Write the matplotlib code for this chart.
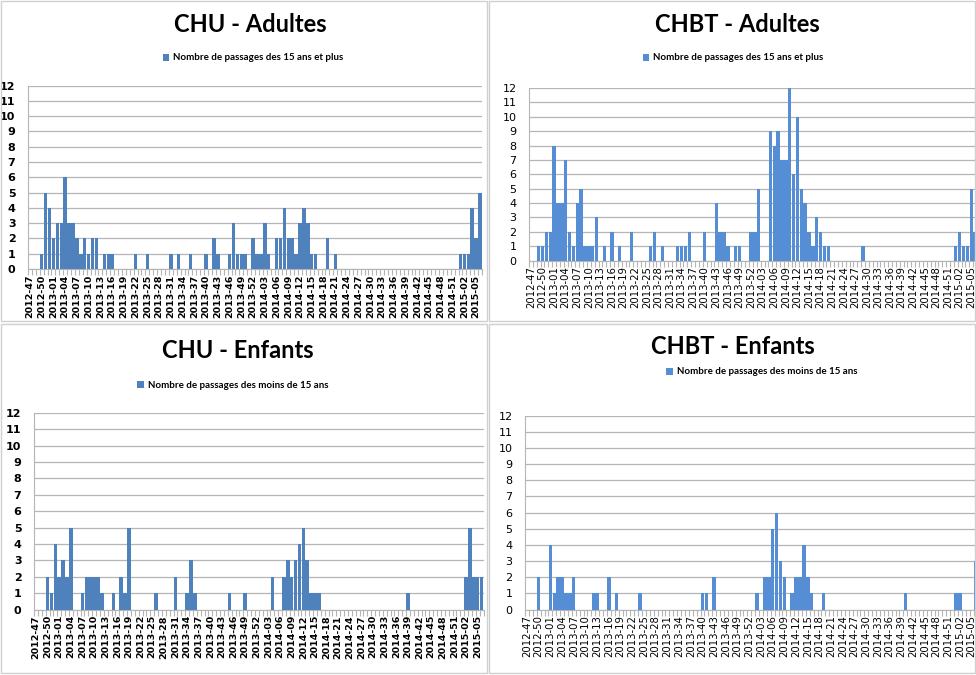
import numpy as np
import matplotlib
matplotlib.use("Agg")
import matplotlib.pyplot as plt
from matplotlib.patches import Rectangle

# semaines 2012-47 -> 2015-06
weeks = ([f"2012-{w:02d}" for w in range(47, 53)] +
         [f"2013-{w:02d}" for w in range(1, 53)] +
         [f"2014-{w:02d}" for w in range(1, 53)] +
         [f"2015-{w:02d}" for w in range(1, 7)])

chu_adultes = [
    0, 0, 0, 1, 5, 4,                                   # 2012
    2, 3, 3, 6, 3, 3, 2, 1, 2, 1, 2, 2, 0, 1, 1, 1, 0, 0, 0, 0,
    0, 1, 0, 0, 1, 0, 0, 0, 0, 0, 1, 0, 1, 0, 0, 1, 0, 0, 0, 1,
    0, 2, 1, 0, 0, 1, 3, 1, 1, 1, 0, 2,                 # 2013
    1, 1, 3, 1, 0, 2, 2, 4, 2, 2, 1, 3, 4, 3, 1, 1, 0, 0, 2, 0,
    1, 0, 0, 0, 0, 0, 0, 0, 0, 0, 0, 0, 0, 0, 0, 0, 0, 0, 0, 0,
    0, 0, 0, 0, 0, 0, 0, 0, 0, 0, 0, 0,                 # 2014
    1, 1, 1, 4, 2, 5,                                   # 2015
]

chbt_adultes = [
    0, 0, 1, 1, 2, 2,
    8, 4, 4, 7, 2, 1, 4, 5, 1, 1, 1, 3, 0, 1, 0, 2, 0, 1, 0, 0,
    2, 0, 0, 0, 0, 1, 2, 0, 1, 0, 0, 0, 1, 1, 1, 2, 0, 0, 0, 2,
    0, 0, 4, 2, 2, 1, 0, 1, 1, 0, 0, 2,
    2, 5, 0, 0, 9, 8, 9, 7, 7, 12, 6, 10, 5, 4, 2, 1, 3, 2, 1, 1,
    0, 0, 0, 0, 0, 0, 0, 0, 1, 0, 0, 0, 0, 0, 0, 0, 0, 0, 0, 0,
    0, 0, 0, 0, 0, 0, 0, 0, 0, 0, 0, 0,
    1, 2, 1, 1, 5, 2,
]

chu_enfants = [
    0, 0, 0, 2, 1, 4,
    2, 3, 2, 5, 0, 0, 1, 2, 2, 2, 2, 1, 0, 0, 1, 0, 2, 1, 5, 0,
    0, 0, 0, 0, 0, 1, 0, 0, 0, 0, 2, 0, 0, 1, 3, 1, 0, 0, 0, 0,
    0, 0, 0, 0, 1, 0, 0, 0, 1, 0, 0, 0,
    0, 0, 0, 2, 0, 0, 2, 3, 2, 3, 4, 5, 3, 1, 1, 1, 0, 0, 0, 0,
    0, 0, 0, 0, 0, 0, 0, 0, 0, 0, 0, 0, 0, 0, 0, 0, 0, 0, 1, 0,
    0, 0, 0, 0, 0, 0, 0, 0, 0, 0, 0, 0,
    0, 2, 5, 2, 2, 2,
]

chbt_enfants = [
    0, 0, 0, 2, 0, 0,
    4, 1, 2, 2, 1, 1, 2, 0, 0, 0, 0, 1, 1, 0, 0, 2, 0, 1, 0, 0,
    0, 0, 0, 1, 0, 0, 0, 0, 0, 0, 0, 0, 0, 0, 0, 0, 0, 0, 0, 1,
    1, 0, 2, 0, 0, 0, 0, 0, 0, 0, 0, 0,
    0, 1, 0, 2, 2, 5, 6, 3, 2, 0, 1, 2, 2, 4, 2, 1, 0, 0, 1, 0,
    0, 0, 0, 0, 0, 0, 0, 0, 0, 0, 0, 0, 0, 0, 0, 0, 0, 0, 0, 1,
    0, 0, 0, 0, 0, 0, 0, 0, 0, 0, 0, 0,
    1, 1, 0, 0, 0, 3,
]

titles = ["CHU - Adultes", "CHBT - Adultes", "CHU - Enfants", "CHBT - Enfants"]
legend_labels = ["Nombre de passages des 15 ans et plus",
                 "Nombre de passages des 15 ans et plus",
                 "Nombre de passages des moins de 15 ans",
                 "Nombre de passages des moins de 15 ans"]

W, H = 976, 675


def fx(px):
    return px / W


def fy(py):
    return 1 - py / H


fig = plt.figure(figsize=(W / 100, H / 100), dpi=100)

# layout in pixels: (left, top, right, bottom) of plot area, title pos, legend pos
layout = [
    dict(box=(28, 85.5, 482, 269), title=(250, 25), leg=(253, 58), color="#4F81BD", bold=True),
    dict(box=(529, 88, 977, 260.5), title=(737, 25), leg=(733, 58), color="#558ED5", bold=False),
    dict(box=(34, 412.7, 483.5, 609.5), title=(238, 350), leg=(233, 385), color="#4F81BD", bold=True),
    dict(box=(525, 415.7, 977.5, 609.5), title=(733, 346), leg=(762, 372), color="#558ED5", bold=False),
]

series = [chu_adultes, chbt_adultes, chu_enfants, chbt_enfants]

# panel frames
for (x0, y0, x1, y1) in [(1, 1, 487, 321), (489, 1, 975, 321),
                         (1, 324, 487, 673), (489, 324, 975, 673)]:
    fig.add_artist(Rectangle((fx(x0), fy(y1)), fx(x1 - x0), (y1 - y0) / H,
                             transform=fig.transFigure, fill=False,
                             ec="#d0d0d0", lw=1))

x = np.arange(len(weeks))
grid_col = "#b5b5b5"

for vals, lay, title, leg in zip(series, layout, titles, legend_labels):
    l, t, r, b = lay["box"]
    ax = fig.add_axes([fx(l), fy(b), (r - l) / W, (b - t) / H])
    ax.bar(x, vals, width=0.88, color=lay["color"], label=leg, zorder=3)
    ax.set_xlim(-0.5, len(weeks) - 0.5)
    ax.set_ylim(0, 12)
    ax.set_yticks(range(0, 13))
    ax.yaxis.grid(True, color=grid_col, lw=0.9)
    ax.set_axisbelow(True)
    for s in ["top", "right"]:
        ax.spines[s].set_visible(False)
    ax.spines["left"].set_color(grid_col)
    ax.spines["bottom"].set_color(grid_col)
    fw = "bold" if lay["bold"] else "normal"
    ax.tick_params(axis="y", length=0, pad=9, labelsize=8)
    for lbl in ax.get_yticklabels():
        lbl.set_fontweight(fw)
    ax.set_xticks(x[::3])
    ax.set_xticklabels(weeks[::3], rotation=90,
                       fontsize=6.8 if lay["bold"] else 7.3, fontweight=fw)
    ax.tick_params(axis="x", length=0, pad=4)
    ax.set_xticks(np.arange(-0.5, len(weeks), 1), minor=True)
    ax.tick_params(axis="x", which="minor", length=4, color=grid_col, width=0.8)

    fig.text(fx(lay["title"][0]), fy(lay["title"][1]), title, ha="center", va="center",
             fontsize=17, fontweight="bold", family="Lato")
    ax.legend(loc="center", bbox_to_anchor=(fx(lay["leg"][0]), fy(lay["leg"][1])),
              bbox_transform=fig.transFigure, frameon=False,
              prop={"family": "Lato", "size": 7, "weight": "bold"},
              handlelength=0.7, handleheight=0.7, handletextpad=0.4)

fig.savefig("out.png", dpi=100)
